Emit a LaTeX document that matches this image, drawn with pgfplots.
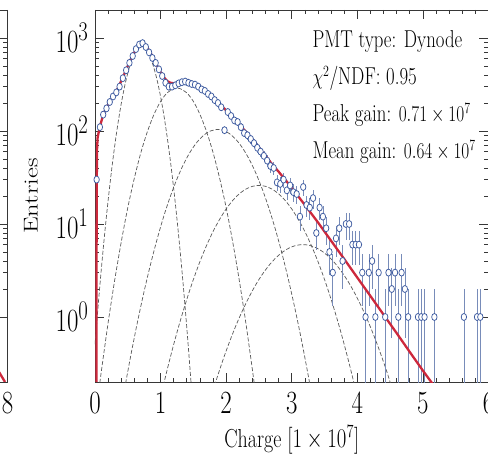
\documentclass[border=0pt]{standalone}
\usepackage{pgfplots}
\pgfplotsset{compat=1.18}
\definecolor{fitred}{RGB}{205,40,60}
\definecolor{datablue}{RGB}{60,90,160}
\definecolor{errblue}{RGB}{120,140,185}
\definecolor{axisgray}{RGB}{55,55,55}
\pgfplotstableread{
x y ep em
0.025 30 5.5 5.5
0.075 110 10.5 10.5
0.125 150 12.2 12.2
0.175 175 13.2 13.2
0.225 205 14.3 14.3
0.275 235 15.3 15.3
0.325 260 16.1 16.1
0.375 300 17.3 17.3
0.425 370 19.2 19.2
0.475 450 21.2 21.2
0.525 540 23.2 23.2
0.575 640 25.3 25.3
0.625 760 27.6 27.6
0.675 850 29.2 29.2
0.725 880 29.7 29.7
0.775 800 28.3 28.3
0.825 700 26.5 26.5
0.875 610 24.7 24.7
0.925 540 23.2 23.2
0.975 460 21.4 21.4
1.025 390 19.7 19.7
1.075 330 18.2 18.2
1.125 300 17.3 17.3
1.175 300 17.3 17.3
1.225 310 17.6 17.6
1.275 325 18.0 18.0
1.325 335 18.3 18.3
1.375 340 18.4 18.4
1.425 330 18.2 18.2
1.475 320 17.9 17.9
1.525 315 17.7 17.7
1.575 300 17.3 17.3
1.625 280 16.7 16.7
1.675 270 16.4 16.4
1.725 250 15.8 15.8
1.775 235 15.3 15.3
1.825 215 14.7 14.7
1.875 200 14.1 14.1
1.925 180 13.4 13.4
1.975 102 10.1 10.1
2.025 160 12.6 12.6
2.075 145 12.0 12.0
2.125 130 11.4 11.4
2.175 125 11.2 11.2
2.225 110 10.5 10.5
2.275 95 9.7 9.7
2.325 90 9.5 9.5
2.375 82 9.1 9.1
2.425 74 8.6 8.6
2.475 66 8.1 8.1
2.525 60 7.7 7.7
2.575 54 7.3 7.3
2.625 48 6.9 6.9
2.675 42 6.5 6.5
2.725 40 6.3 6.3
2.775 28 5.3 5.3
2.825 27 5.2 5.2
2.875 30 5.5 5.5
2.925 23 4.8 4.8
2.975 26 5.1 5.1
3.025 22 4.7 4.7
3.075 21 4.6 4.6
3.125 12 3.5 3.5
3.175 25 5.0 5.0
3.225 16 4.0 4.0
3.275 15 3.9 3.9
3.325 19 4.4 4.4
3.375 8 2.8 2.8
3.425 15 3.9 3.9
3.475 12 3.5 3.5
3.525 9 3.0 3.0
3.575 5 2.2 2.2
3.625 3 1.7 1.7
3.675 7 2.6 2.6
3.725 9 3.0 3.0
3.775 4 2.0 2.0
3.825 10 3.2 3.2
3.875 10 3.2 3.2
3.925 6 2.4 2.4
3.975 6 2.4 2.4
4.025 6 2.4 2.4
4.075 3 1.7 1.7
4.125 1 1 0.99
4.175 3 1.7 1.7
4.225 4 2.0 2.0
4.275 1 1 0.99
4.325 3 1.7 1.7
4.425 1 1 0.99
4.475 3 1.7 1.7
4.525 2 1.4 1.4
4.575 3 1.7 1.7
4.625 1 1 0.99
4.675 3 1.7 1.7
4.725 2 1.4 1.4
4.775 1 1 0.99
4.925 1 1 0.99
4.975 1 1 0.99
5.025 1 1 0.99
5.175 1 1 0.99
5.625 1 1 0.99
5.825 1 1 0.99
5.875 1 1 0.99
}\datatable

\begin{document}
\begin{tikzpicture}
\path[use as bounding box] (0,0) rectangle (488pt,461pt);
% neighbouring panel on the left (only its right edge is visible)
\begin{axis}[at={(7.5pt,79pt)}, anchor=south east,
  scale only axis, width=393.5pt, height=372pt,
  ymode=log, ymin=0.2, ymax=2000, ytick={1,10,100,1000},
  xmin=0, xmax=8, xtick={0,2,4,6,8}, minor x tick num=1,
  tick align=inside, major tick length=9pt, minor tick length=4.5pt,
  axis line style={axisgray, line width=0.9pt},
  tick style={axisgray, line width=0.7pt},
  tick label style={font=\fontsize{28}{32}\selectfont, yscale=1.3, text=black},
  xticklabel style={yshift=-5pt}]
\addplot[fitred, line width=2.3pt] coordinates {(7.55,0.5) (7.75,0.3) (7.95,0.2)};
\end{axis}
% main panel
\begin{axis}[at={(95pt,79pt)}, anchor=south west,
  scale only axis, width=393.5pt, height=372pt,
  ymode=log, ymin=0.2, ymax=2000, ytick={1,10,100,1000},
  xmin=0, xmax=6, xtick={0,1,2,3,4,5,6}, minor x tick num=4,
  tick align=inside, major tick length=9pt, minor tick length=4.5pt,
  axis line style={axisgray, line width=0.9pt},
  tick style={axisgray, line width=0.7pt},
  tick label style={font=\fontsize{28}{32}\selectfont, yscale=1.3, text=black},
  xticklabel style={yshift=-5pt},
  yticklabel style={xshift=-3pt},
  xlabel={Charge $[1\times10^{7}]$},
  ylabel={Entries},
  xlabel style={font=\fontsize{20}{24}\selectfont, yscale=1.3, text=black, at={(axis description cs:0.5,-0.156)}, anchor=center},
  ylabel style={font=\fontsize{20}{24}\selectfont, xscale=1.33, text=black, at={(axis description cs:-0.163,0.5)}, anchor=center},
]
% components
\addplot[black!65, line width=0.7pt, dash pattern=on 4pt off 2pt, smooth] coordinates {(0,0.507)(0.05,1.38)(0.1,3.49)(0.15,8.2)(0.2,17.9)(0.25,36.4)(0.3,68.7)(0.35,120.5)(0.4,196.5)(0.45,298)(0.5,420)(0.55,551)(0.6,670)(0.65,759)(0.7,800)(0.75,782)(0.8,711)(0.85,601)(0.9,472)(0.95,345)(1.0,234)(1.05,148)(1.1,86.7)(1.15,47.3)(1.2,24.0)(1.25,11.3)(1.3,4.95)(1.35,2.02)(1.4,0.764)(1.45,0.269)(1.48,0.139)};
\addplot[black!65, line width=0.7pt, dash pattern=on 4pt off 2pt, smooth] coordinates {(0.05,0.146)(0.1,0.271)(0.2,0.865)(0.3,2.48)(0.4,6.40)(0.5,15.0)(0.6,31.1)(0.7,58.7)(0.8,99)(0.9,151)(1.0,208)(1.1,257)(1.2,285)(1.25,290)(1.3,285)(1.4,257)(1.5,208)(1.6,151)(1.7,99)(1.8,58.7)(1.9,31.1)(2.0,15.0)(2.1,6.40)(2.2,2.48)(2.3,0.865)(2.4,0.271)(2.45,0.146)};
\addplot[black!65, line width=0.7pt, dash pattern=on 4pt off 2pt, smooth] coordinates {(0.45,0.167)(0.55,0.400)(0.65,0.90)(0.75,1.90)(0.85,3.76)(0.95,6.98)(1.05,12.2)(1.15,19.9)(1.25,30.5)(1.35,43.9)(1.45,59.3)(1.55,75.0)(1.65,89.1)(1.75,99.3)(1.87,104)(1.95,102)(2.05,93.8)(2.15,80.9)(2.25,65.6)(2.35,49.9)(2.45,35.6)(2.55,23.8)(2.65,14.9)(2.75,8.79)(2.85,4.85)(2.95,2.51)(3.05,1.22)(3.15,0.557)(3.25,0.238)(3.32,0.127)};
\addplot[black!65, line width=0.7pt, dash pattern=on 4pt off 2pt, smooth] coordinates {(1.0,0.137)(1.1,0.270)(1.2,0.507)(1.3,0.908)(1.4,1.55)(1.5,2.53)(1.6,3.94)(1.7,5.85)(1.8,8.30)(1.9,11.2)(2.0,14.5)(2.1,17.9)(2.2,21.1)(2.3,23.7)(2.4,25.4)(2.5,26)(2.6,25.4)(2.7,23.7)(2.8,21.1)(2.9,17.9)(3.0,14.5)(3.1,11.2)(3.2,8.30)(3.3,5.85)(3.4,3.94)(3.5,2.53)(3.6,1.55)(3.7,0.908)(3.8,0.507)(3.9,0.270)(4.0,0.137)};
\addplot[black!65, line width=0.7pt, dash pattern=on 4pt off 2pt, smooth] coordinates {(1.77,0.138)(1.87,0.233)(1.97,0.377)(2.07,0.586)(2.17,0.877)(2.27,1.26)(2.37,1.75)(2.47,2.34)(2.57,3.00)(2.67,3.71)(2.77,4.41)(2.87,5.05)(2.97,5.56)(3.07,5.89)(3.17,6)(3.27,5.89)(3.37,5.56)(3.47,5.05)(3.57,4.41)(3.67,3.71)(3.77,3.00)(3.87,2.34)(3.97,1.75)(4.07,1.26)(4.17,0.877)(4.27,0.586)(4.37,0.377)(4.47,0.233)(4.57,0.138)};
% data
\addplot[only marks, mark=*, mark size=2.7pt,
  mark options={draw=datablue, fill=white, line width=0.75pt, yscale=1.3},
  error bars/.cd, y dir=both, y explicit,
  error bar style={errblue, line width=0.6pt}, error mark=none]
  table[x=x, y=y, y error plus=ep, y error minus=em] {\datatable};
% fit
\addplot[fitred, line width=2.3pt] coordinates {(0.022,0.2)(0.024,5)(0.027,30)(0.032,65)(0.04,85)(0.06,100)(0.08,115)(0.12,145)(0.16,170)(0.2,193)(0.25,220)(0.3,250)(0.35,290)(0.4,345)(0.45,415)(0.5,500)(0.55,600)(0.6,700)(0.65,795)(0.7,860)(0.73,870)(0.76,850)(0.8,780)(0.85,685)(0.9,590)(0.95,500)(1.0,430)(1.05,378)(1.1,345)(1.15,330)(1.2,326)(1.25,330)(1.3,335)(1.35,338)(1.4,338)(1.45,333)(1.5,322)(1.6,296)(1.7,262)(1.8,228)(1.9,195)(2.0,166)(2.1,140)(2.2,118)(2.3,98)(2.4,81)(2.5,66)(2.6,54)(2.7,44)(2.8,36.5)(2.9,30)(3.0,24.5)(3.2,16)(3.4,10.4)(3.6,6.6)(3.8,4.2)(4.0,2.65)(4.2,1.68)(4.4,1.06)(4.6,0.67)(4.8,0.42)(5.0,0.265)(5.15,0.19)};
% annotations
\node[anchor=west, font=\fontsize{18.8}{22}\selectfont, yscale=1.3, text=black] at (rel axis cs:0.544,0.914) {PMT type: Dynode};
\node[anchor=west, font=\fontsize{18.8}{22}\selectfont, yscale=1.3, text=black] at (rel axis cs:0.544,0.817) {$\chi^{2}$/NDF: 0.95};
\node[anchor=west, font=\fontsize{18.8}{22}\selectfont, yscale=1.3, text=black] at (rel axis cs:0.544,0.718) {Peak gain: $0.71\times10^{7}$};
\node[anchor=west, font=\fontsize{18.8}{22}\selectfont, yscale=1.3, text=black] at (rel axis cs:0.544,0.618) {Mean gain: $0.64\times10^{7}$};
\end{axis}
\end{tikzpicture}
\end{document}
